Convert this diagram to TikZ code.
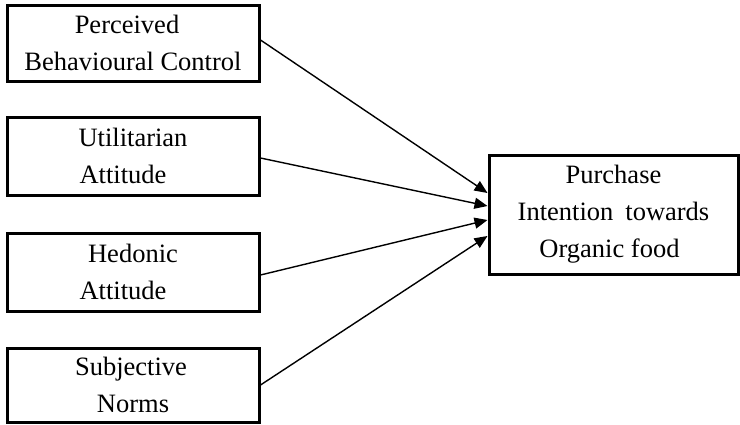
\documentclass[tikz,border=0pt]{standalone}
\usepackage{fontspec}
\setmainfont{Liberation Serif}
\usetikzlibrary{arrows.meta}
\begin{document}
\begin{tikzpicture}[x=1pt,y=-1pt,
  box/.style={draw=black,line width=3pt,rectangle,align=center,inner sep=0pt,
    font=\fontsize{26.5}{37}\selectfont},
  conn/.style={draw=black,line width=1.4pt,-{Triangle[length=13pt,width=11pt]}}]
\useasboundingbox (0,0) rectangle (740,424);
\node[box,minimum width=252pt,minimum height=76pt] (b1) at (133,43)
  {Perceived\kern12pt\\Behavioural Control};
\node[box,minimum width=252pt,minimum height=78pt] (b2) at (133,156)
  {Utilitarian\\Attitude\kern20pt};
\node[box,minimum width=252pt,minimum height=78pt] (b3) at (133,272)
  {Hedonic\\Attitude\kern20pt};
\node[box,minimum width=252pt,minimum height=74pt] (b4) at (133,385)
  {Subjective\kern4pt\\Norms};
\node[box,minimum width=249pt,minimum height=119pt] (pi) at (613.5,214.5)
  {Purchase\\Intention\hspace{12pt}towards\\Organic food\kern8pt};
\draw[conn] ([yshift=3pt]b1.east) -- ([yshift=21.5pt]pi.west);
\draw[conn] ([yshift=-2pt]b2.east) -- ([yshift=8.5pt]pi.west);
\draw[conn] ([yshift=-3pt]b3.east) -- ([yshift=-5.5pt]pi.west);
\draw[conn] (b4.east) -- ([yshift=-21.5pt]pi.west);
\end{tikzpicture}
\end{document}
